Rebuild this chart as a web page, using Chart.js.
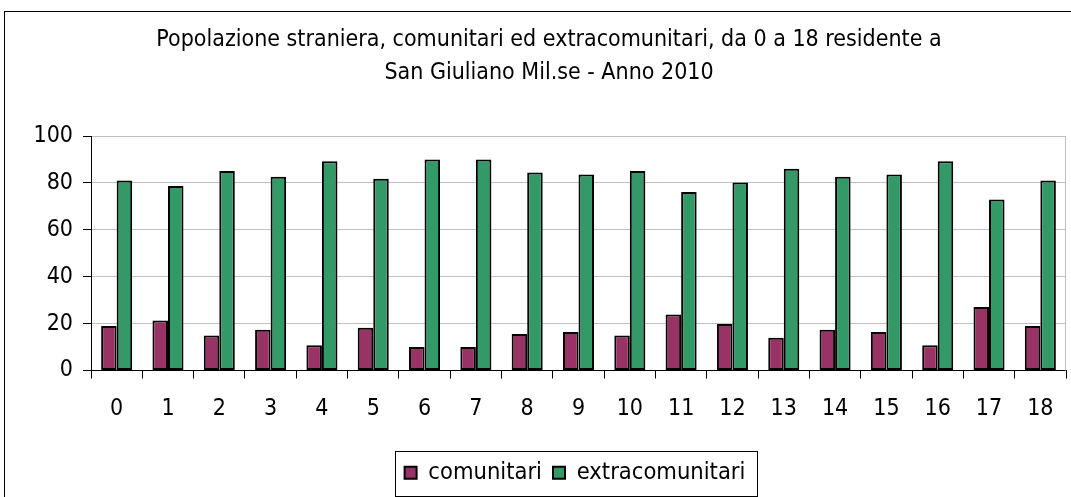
<!DOCTYPE html>
<html>
<head>
<meta charset="utf-8">
<script src="https://cdn.jsdelivr.net/npm/chart.js@4"></script>
<style>
  html, body { margin: 0; padding: 0; background: #ffffff; }
  #wrap { width: 1071px; height: 497px; }
</style>
</head>
<body>
<div id="wrap"><canvas id="c" width="1071" height="497"></canvas></div>
<script>
const titleLines = ["Popolazione straniera, comunitari ed extracomunitari, da 0 a 18 residente a", "San Giuliano Mil.se - Anno 2010"];
const categories = ["0","1","2","3","4","5","6","7","8","9","10","11","12","13","14","15","16","17","18"];
const seriesNames = ["comunitari", "extracomunitari"];
const comunitari = [19.0, 21.3, 14.9, 17.4, 10.8, 18.2, 10.0, 10.0, 15.6, 16.4, 14.9, 23.9, 19.8, 14.0, 17.4, 16.4, 10.8, 27.1, 19.0];
const extracomunitari = [81.0, 78.7, 85.1, 82.6, 89.2, 81.8, 90.0, 90.0, 84.4, 83.6, 85.1, 76.1, 80.2, 86.0, 82.6, 83.6, 89.2, 72.9, 81.0];
const yTicks = [0, 20, 40, 60, 80, 100];

const FONT = "'DejaVu Sans Condensed', 'DejaVu Sans', sans-serif";

const framePlugin = {
  id: 'framePlugin',
  afterLayout(chart) {
    const t = chart.titleBlock;
    if (t) { const half = (t.right - t.left) / 2; const c = 549; t.left = c - half; t.right = c + half; }
    const l = chart.legend;
    if (l) { const half = (l.right - l.left) / 2; const c = 575; l.left = c - half; l.right = c + half; }
  },
  beforeDraw(chart) {
    const ctx = chart.ctx;
    ctx.save();
    ctx.fillStyle = '#ffffff';
    ctx.fillRect(0, 0, chart.width, chart.height);
    ctx.strokeStyle = '#000000';
    ctx.lineWidth = 1;
    ctx.strokeRect(4.5, 11.5, chart.width + 50, chart.height + 50);
    ctx.restore();
  },
  beforeDatasetsDraw(chart) {
    const ctx = chart.ctx, a = chart.chartArea;
    ctx.save();
    ctx.strokeStyle = '#c0c0c0';
    ctx.lineWidth = 1;
    ctx.beginPath();
    ctx.moveTo(Math.round(a.right) - 0.5, a.top);
    ctx.lineTo(Math.round(a.right) - 0.5, a.bottom);
    ctx.stroke();
    ctx.restore();
  },
  afterDraw(chart) {
    const l = chart.legend;
    if (!l || !l.legendHitBoxes || !l.legendHitBoxes.length) return;
    const hb = l.legendHitBoxes;
    const first = hb[0], last = hb[hb.length - 1];
    const cy = first.top + first.height / 2;
    const ctx = chart.ctx;
    ctx.save();
    ctx.strokeStyle = '#000000';
    ctx.lineWidth = 1;
    const x0 = Math.round(first.left - 10) + 0.5;
    const x1 = Math.round(last.left + last.width + 12) + 0.5;
    const y0 = Math.round(cy - 22) + 0.5;
    const y1 = Math.round(cy + 23) + 0.5;
    ctx.strokeRect(x0, y0, x1 - x0, y1 - y0);
    ctx.restore();
  }
};

new Chart(document.getElementById('c'), {
  type: 'bar',
  data: {
    labels: categories,
    datasets: [
      { label: seriesNames[0], data: comunitari, backgroundColor: '#993366', borderColor: '#000000', borderWidth: 2, borderSkipped: false, categoryPercentage: 0.605, barPercentage: 1.0 },
      { label: seriesNames[1], data: extracomunitari, backgroundColor: '#339966', borderColor: '#000000', borderWidth: 2, borderSkipped: false, categoryPercentage: 0.605, barPercentage: 1.0 }
    ]
  },
  options: {
    responsive: false,
    animation: false,
    devicePixelRatio: 1,
    layout: { padding: { top: 0, left: 0, right: 5, bottom: 2.5 } },
    plugins: {
      title: {
        display: true,
        text: titleLines,
        color: '#000000',
        font: { family: FONT, size: 23, weight: 'normal', lineHeight: 1.435 },
        padding: { top: 24, bottom: 46 }
      },
      legend: {
        display: true,
        position: 'bottom',
        labels: {
          color: '#000000',
          font: { family: FONT, size: 23.5 },
          boxWidth: 12,
          boxHeight: 12,
          padding: 11
        }
      },
      tooltip: { enabled: false }
    },
    scales: {
      x: {
        grid: { offset: true, drawOnChartArea: false, drawTicks: true, tickLength: 8, color: '#000000', tickColor: '#000000' },
        border: { display: true, color: '#000000', width: 1 },
        ticks: { color: '#000000', font: { family: FONT, size: 23 }, padding: 17, maxRotation: 0, autoSkip: false },
        afterFit(s) { s.height = 79.5; }
      },
      y: {
        min: 0,
        max: 100,
        afterBuildTicks(s) { s.ticks = yTicks.map(v => ({ value: v })); },
        grid: { color: '#c0c0c0', lineWidth: 1, tickLength: 8, tickColor: '#000000', drawTicks: true },
        border: { display: true, color: '#000000', width: 1 },
        ticks: { color: '#000000', font: { family: FONT, size: 23 }, padding: 10 },
        afterFit(s) { s.width = 91; }
      }
    }
  },
  plugins: [framePlugin]
});
</script>
</body>
</html>
